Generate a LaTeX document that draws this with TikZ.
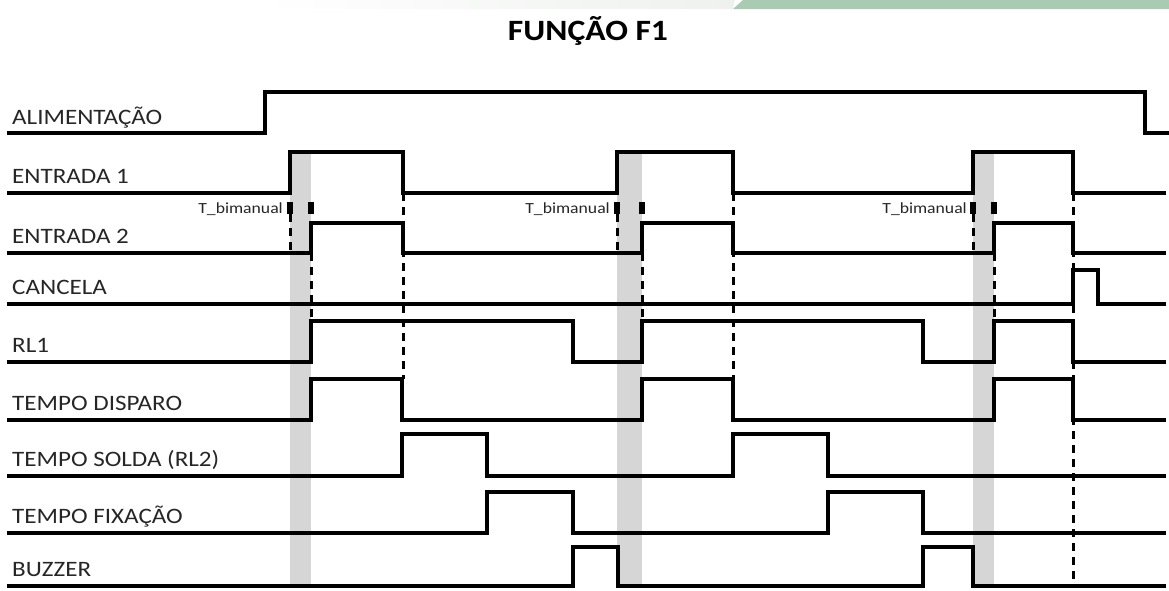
\documentclass[tikz,border=0pt]{standalone}
\usepackage{fontspec}
\usepackage{tikz}
\usetikzlibrary{calc}
\newfontfamily\labelfont{Carlito}[FakeStretch=1.14]
\definecolor{band}{HTML}{D6D6D6}
\definecolor{leaf}{HTML}{A9CBB1}
\definecolor{haze}{HTML}{EEF1EE}
\definecolor{ink}{HTML}{262626}
\tikzset{
  signal/.style={line width=3.3pt, line join=miter},
  guide/.style={line width=3pt, dash pattern=on 8pt off 6pt},
  window/.style={fill=band, draw=none},
  marker/.style={fill=black, draw=none},
  signame/.style={font=\labelfont\fontsize{22}{25}\selectfont, text=ink,
                  anchor=base west, inner sep=0pt},
  tbi/.style={font=\labelfont\fontsize{15.5}{18}\selectfont, text=ink,
              anchor=base east, inner sep=0pt}
}

\begin{document}
\begin{tikzpicture}[x=1pt,y=-1pt]
    \useasboundingbox (0,0) rectangle (1169,590);

    % ===== header strip and title =====
    \shade[left color=white, right color=haze] (262,0) -- (735,0) -- (733,9) -- (263,9) -- cycle;
    \fill[leaf] (743,0) -- (1169,0) -- (1169,9) -- (733,9) -- cycle;
    \node[font=\labelfont\bfseries\fontsize{29.5}{32}\selectfont, anchor=base, inner sep=0pt]
      (title) at (588,40) {FUNÇÃO F1};

    % ===== two-hand windows =====
    \fill[window] (290,152) rectangle (311,586);
    \fill[window] (617,152) rectangle (642,586);
    \fill[window] (973,152) rectangle (994,586);

    % ===== signal names =====
    \node[signame] (alim)  at (12,124) {ALIMENTAÇÃO};
    \node[signame] (ent1)  at (12,183) {ENTRADA 1};
    \node[signame] (ent2)  at (12,243) {ENTRADA 2};
    \node[signame] (canc)  at (12,294) {CANCELA};
    \node[signame] (rl1)   at (12,352) {RL1};
    \node[signame] (disp)  at (12,410) {TEMPO DISPARO};
    \node[signame] (solda) at (12,466) {TEMPO SOLDA (RL2)};
    \node[signame] (fix)   at (12,523) {TEMPO FIXAÇÃO};
    \node[signame] (buzz)  at (12,576) {BUZZER};

    % ===== T_bimanual marks =====
    \node[tbi] (tb1) at (283,213) {T\_bimanual};
    \node[tbi] (tb2) at (610,213) {T\_bimanual};
    \node[tbi] (tb3) at (967,213) {T\_bimanual};
    \fill[marker] (287,202) rectangle (293,214);
    \fill[marker] (308,202) rectangle (314,214);
    \fill[marker] (614,202) rectangle (620,214);
    \fill[marker] (639,202) rectangle (645,214);
    \fill[marker] (970,202) rectangle (976,214);
    \fill[marker] (991,202) rectangle (997,214);

    % ===== guide lines =====
    \draw[guide] (290,214) -- (290,253);
    \draw[guide] (617,214) -- (617,253);
    \draw[guide] (973,214) -- (973,253);
    \draw[guide] (311,253) -- (311,321);
    \draw[guide] (642,253) -- (642,321);
    \draw[guide] (994,253) -- (994,321);
    \draw[guide] (403,193) -- (403,379);
    \draw[guide] (733,193) -- (733,379);
    \draw[guide] (1073,193) -- (1073,586);

    % ===== waveforms =====
    \draw[signal] (7,133) -- (265,133) -- (265,92) -- (1145,92) -- (1145,133) -- (1169,133);
    \draw[signal] (7,193) -- (290,193) -- (290,152) -- (403,152) -- (403,193)
      -- (617,193) -- (617,152) -- (733,152) -- (733,193)
      -- (973,193) -- (973,152) -- (1073,152) -- (1073,193) -- (1166,193);
    \draw[signal] (7,253) -- (311,253) -- (311,223) -- (403,223) -- (403,253)
      -- (642,253) -- (642,223) -- (733,223) -- (733,253)
      -- (994,253) -- (994,223) -- (1073,223) -- (1073,253) -- (1166,253);
    \draw[signal] (7,304) -- (1073,304) -- (1073,270) -- (1098,270) -- (1098,304) -- (1166,304);
    \draw[signal] (7,362) -- (311,362) -- (311,321) -- (573,321) -- (573,362)
      -- (642,362) -- (642,321) -- (923,321) -- (923,362)
      -- (994,362) -- (994,321) -- (1073,321) -- (1073,362) -- (1166,362);
    \draw[signal] (7,420) -- (311,420) -- (311,379) -- (402,379) -- (402,420)
      -- (642,420) -- (642,379) -- (733,379) -- (733,420)
      -- (994,420) -- (994,379) -- (1073,379) -- (1073,420) -- (1166,420);
    \draw[signal] (7,476) -- (402,476) -- (402,434) -- (487,434) -- (487,476)
      -- (733,476) -- (733,434) -- (828,434) -- (828,476) -- (1166,476);
    \draw[signal] (7,533) -- (487,533) -- (487,492) -- (573,492) -- (573,533)
      -- (828,533) -- (828,492) -- (923,492) -- (923,533) -- (1166,533);
    \draw[signal] (7,586) -- (573,586) -- (573,547) -- (618,547) -- (618,586)
      -- (923,586) -- (923,547) -- (973,547) -- (973,586) -- (1166,586);
  \end{tikzpicture}
\end{document}
